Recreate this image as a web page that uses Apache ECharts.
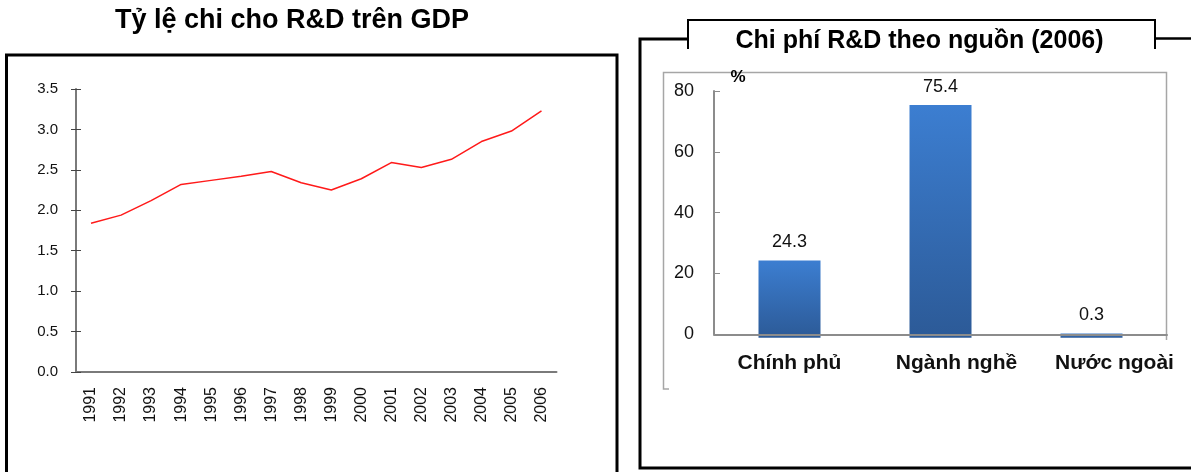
<!DOCTYPE html>
<html>
<head>
<meta charset="utf-8">
<script src="https://cdn.jsdelivr.net/npm/echarts@6/dist/echarts.min.js"></script>
<style>
  html, body { margin: 0; padding: 0; background: #ffffff; }
  #chart { width: 1191px; height: 472px; }
</style>
</head>
<body>
<div id="chart"></div>
<script>
// R&D spending as a share of GDP (%), by year
const years = ['1991', '1992', '1993', '1994', '1995', '1996', '1997', '1998',
               '1999', '2000', '2001', '2002', '2003', '2004', '2005', '2006'];
const rdRatio = [1.84, 1.94, 2.12, 2.32, 2.37, 2.42, 2.48, 2.34,
                 2.25, 2.39, 2.59, 2.53, 2.63, 2.85, 2.98, 3.23];

// R&D spending by funding source in 2006 (%)
const sources = ['Chính phủ', 'Ngành nghề', 'Nước ngoài'];
const sourceShares = [24.3, 75.4, 0.3];

// Axis ranges
const ratioAxis = { min: 0, max: 3.5, step: 0.5 };
const shareAxis = { min: 0, max: 80, step: 20 };

const FONT = '"Liberation Sans", Arial, Helvetica, sans-serif';
const INK = '#111111';
const AXIS_GREY = '#7a7a7a';

// source labels are nudged to the right of their slot (left padding, px)
const sourceLabelPad = [0, 32, 46];
const sourceCategories = sources.map((name, i) => ({
  value: name,
  textStyle: { padding: [0, 0, 0, sourceLabelPad[i]] }
}));

const chart = echarts.init(document.getElementById('chart'), null, { renderer: 'canvas' });

const option = {
  backgroundColor: '#ffffff',
  animation: false,
  textStyle: { fontFamily: FONT },
  grid: [
    // line chart
    { left: 76, top: 89, width: 480.5, height: 283, containLabel: false },
    // bar chart: axes
    { left: 714, top: 91, width: 453, height: 243.3, containLabel: false },
    // bar chart: bars (base sits a little below the zero line)
    { left: 714, top: 91, width: 453, height: 246.95, containLabel: false }
  ],
  xAxis: [
    {
      type: 'category', gridIndex: 0, data: years, boundaryGap: true,
      axisLine: { lineStyle: { color: AXIS_GREY, width: 2 } },
      axisTick: { inside: true, length: 5, lineStyle: { color: '#555', width: 1 } },
      axisLabel: { rotate: 90, margin: 15, fontSize: 16, interval: 0, color: INK, fontFamily: FONT }
    },
    {
      type: 'category', gridIndex: 1, data: sourceCategories, boundaryGap: true, z: 5,
      axisLine: { lineStyle: { color: '#8c8c8c', width: 2 } },
      axisTick: { inside: true, length: 5, lineStyle: { color: '#8c8c8c', width: 1 } },
      axisLabel: { margin: 18, fontSize: 21, fontWeight: 'bold', interval: 0, hideOverlap: false,
                   color: INK, fontFamily: FONT }
    },
    {
      type: 'category', gridIndex: 2, data: sources, show: false
    }
  ],
  yAxis: [
    {
      type: 'value', gridIndex: 0,
      min: ratioAxis.min, max: ratioAxis.max, interval: ratioAxis.step,
      axisLine: { show: true, lineStyle: { color: AXIS_GREY, width: 2 } },
      axisTick: { show: true, inside: false, length: 5, lineStyle: { color: '#444', width: 1 } },
      axisLabel: { margin: 18, fontSize: 15, color: INK, fontFamily: FONT,
                   formatter: v => v.toFixed(1) },
      splitLine: { show: false }
    },
    {
      // inner half of the crossing ticks
      type: 'value', gridIndex: 0,
      min: ratioAxis.min, max: ratioAxis.max, interval: ratioAxis.step, position: 'left',
      axisLine: { show: false },
      axisTick: { show: true, inside: true, length: 5, lineStyle: { color: '#444', width: 1 } },
      axisLabel: { show: false },
      splitLine: { show: false }
    },
    {
      type: 'value', gridIndex: 1,
      min: shareAxis.min, max: shareAxis.max, interval: shareAxis.step,
      axisLine: { show: true, lineStyle: { color: '#8c8c8c', width: 2 } },
      axisTick: { show: true, inside: true, length: 6, lineStyle: { color: '#8c8c8c', width: 1 } },
      axisLabel: { margin: 20, fontSize: 18, color: INK, fontFamily: FONT },
      splitLine: { show: false }
    },
    {
      type: 'value', gridIndex: 2, show: false,
      min: -1.2, max: shareAxis.max, startValue: -1.1,
      splitLine: { show: false }
    }
  ],
  series: [
    {
      name: 'R&D / GDP', type: 'line', xAxisIndex: 0, yAxisIndex: 0,
      data: rdRatio, symbol: 'none', smooth: false,
      lineStyle: { color: '#ff1a1a', width: 1.5 }
    },
    {
      name: 'Nguồn', type: 'bar', xAxisIndex: 2, yAxisIndex: 3,
      data: sourceShares, barWidth: 62, z: 2,
      itemStyle: {
        color: new echarts.graphic.LinearGradient(0, 0, 0, 1, [
          { offset: 0, color: '#3c7ed1' },
          { offset: 1, color: '#2c5a97' }
        ])
      },
      label: {
        show: true, position: 'top', distance: 9,
        fontSize: 18, color: INK, fontFamily: FONT,
        formatter: p => p.value.toFixed(1)
      }
    }
  ],
  graphic: [
    // frame around the line chart
    { type: 'rect', z: 10, silent: true,
      shape: { x: 6.5, y: 55, width: 610.5, height: 460 },
      style: { fill: 'none', stroke: '#000', lineWidth: 3 } },
    // frame around the bar chart
    { type: 'polyline', z: 10, silent: true,
      shape: { points: [[688, 39], [640, 39], [640, 468], [1200, 468]] },
      style: { fill: 'none', stroke: '#000', lineWidth: 3 } },
    { type: 'line', z: 10, silent: true,
      shape: { x1: 1155, y1: 38.5, x2: 1200, y2: 38.5 },
      style: { stroke: '#000', lineWidth: 2.5 } },
    // tab holding the bar chart title
    { type: 'polyline', z: 10, silent: true,
      shape: { points: [[688, 49], [688, 20], [1155, 20], [1155, 49]] },
      style: { fill: 'none', stroke: '#000', lineWidth: 2 } },
    // plot-area outline of the bar chart
    { type: 'polyline', z: 1, silent: true,
      shape: { points: [[669, 389], [663.5, 389], [663.5, 72.5], [1166.5, 72.5], [1166.5, 340]] },
      style: { fill: 'none', stroke: '#a6a6a6', lineWidth: 1.5 } },
    // the zero label sits on the lower edge of the value axis area and is cut there
    { type: 'rect', z: 20, silent: true,
      shape: { x: 676, y: 339.5, width: 28, height: 8 },
      style: { fill: '#ffffff' } },
    // titles
    { type: 'text', z: 10, silent: true,
      style: { x: 292, y: 21, text: 'Tỷ lệ chi cho R&D trên GDP', textAlign: 'center',
               textVerticalAlign: 'middle', fontSize: 27, fontWeight: 'bold',
               fontFamily: FONT, fill: '#000' } },
    { type: 'text', z: 10, silent: true,
      style: { x: 919.5, y: 41, text: 'Chi phí R&D theo nguồn (2006)', textAlign: 'center',
               textVerticalAlign: 'middle', fontSize: 25, fontWeight: 'bold',
               fontFamily: FONT, fill: '#000' } },
    // unit of the bar chart value axis
    { type: 'text', z: 10, silent: true,
      style: { x: 738, y: 77, text: '%', textAlign: 'center', textVerticalAlign: 'middle',
               fontSize: 17, fontWeight: 'bold', fontFamily: FONT, fill: '#000' } }
  ]
};

chart.setOption(option);
</script>
</body>
</html>
